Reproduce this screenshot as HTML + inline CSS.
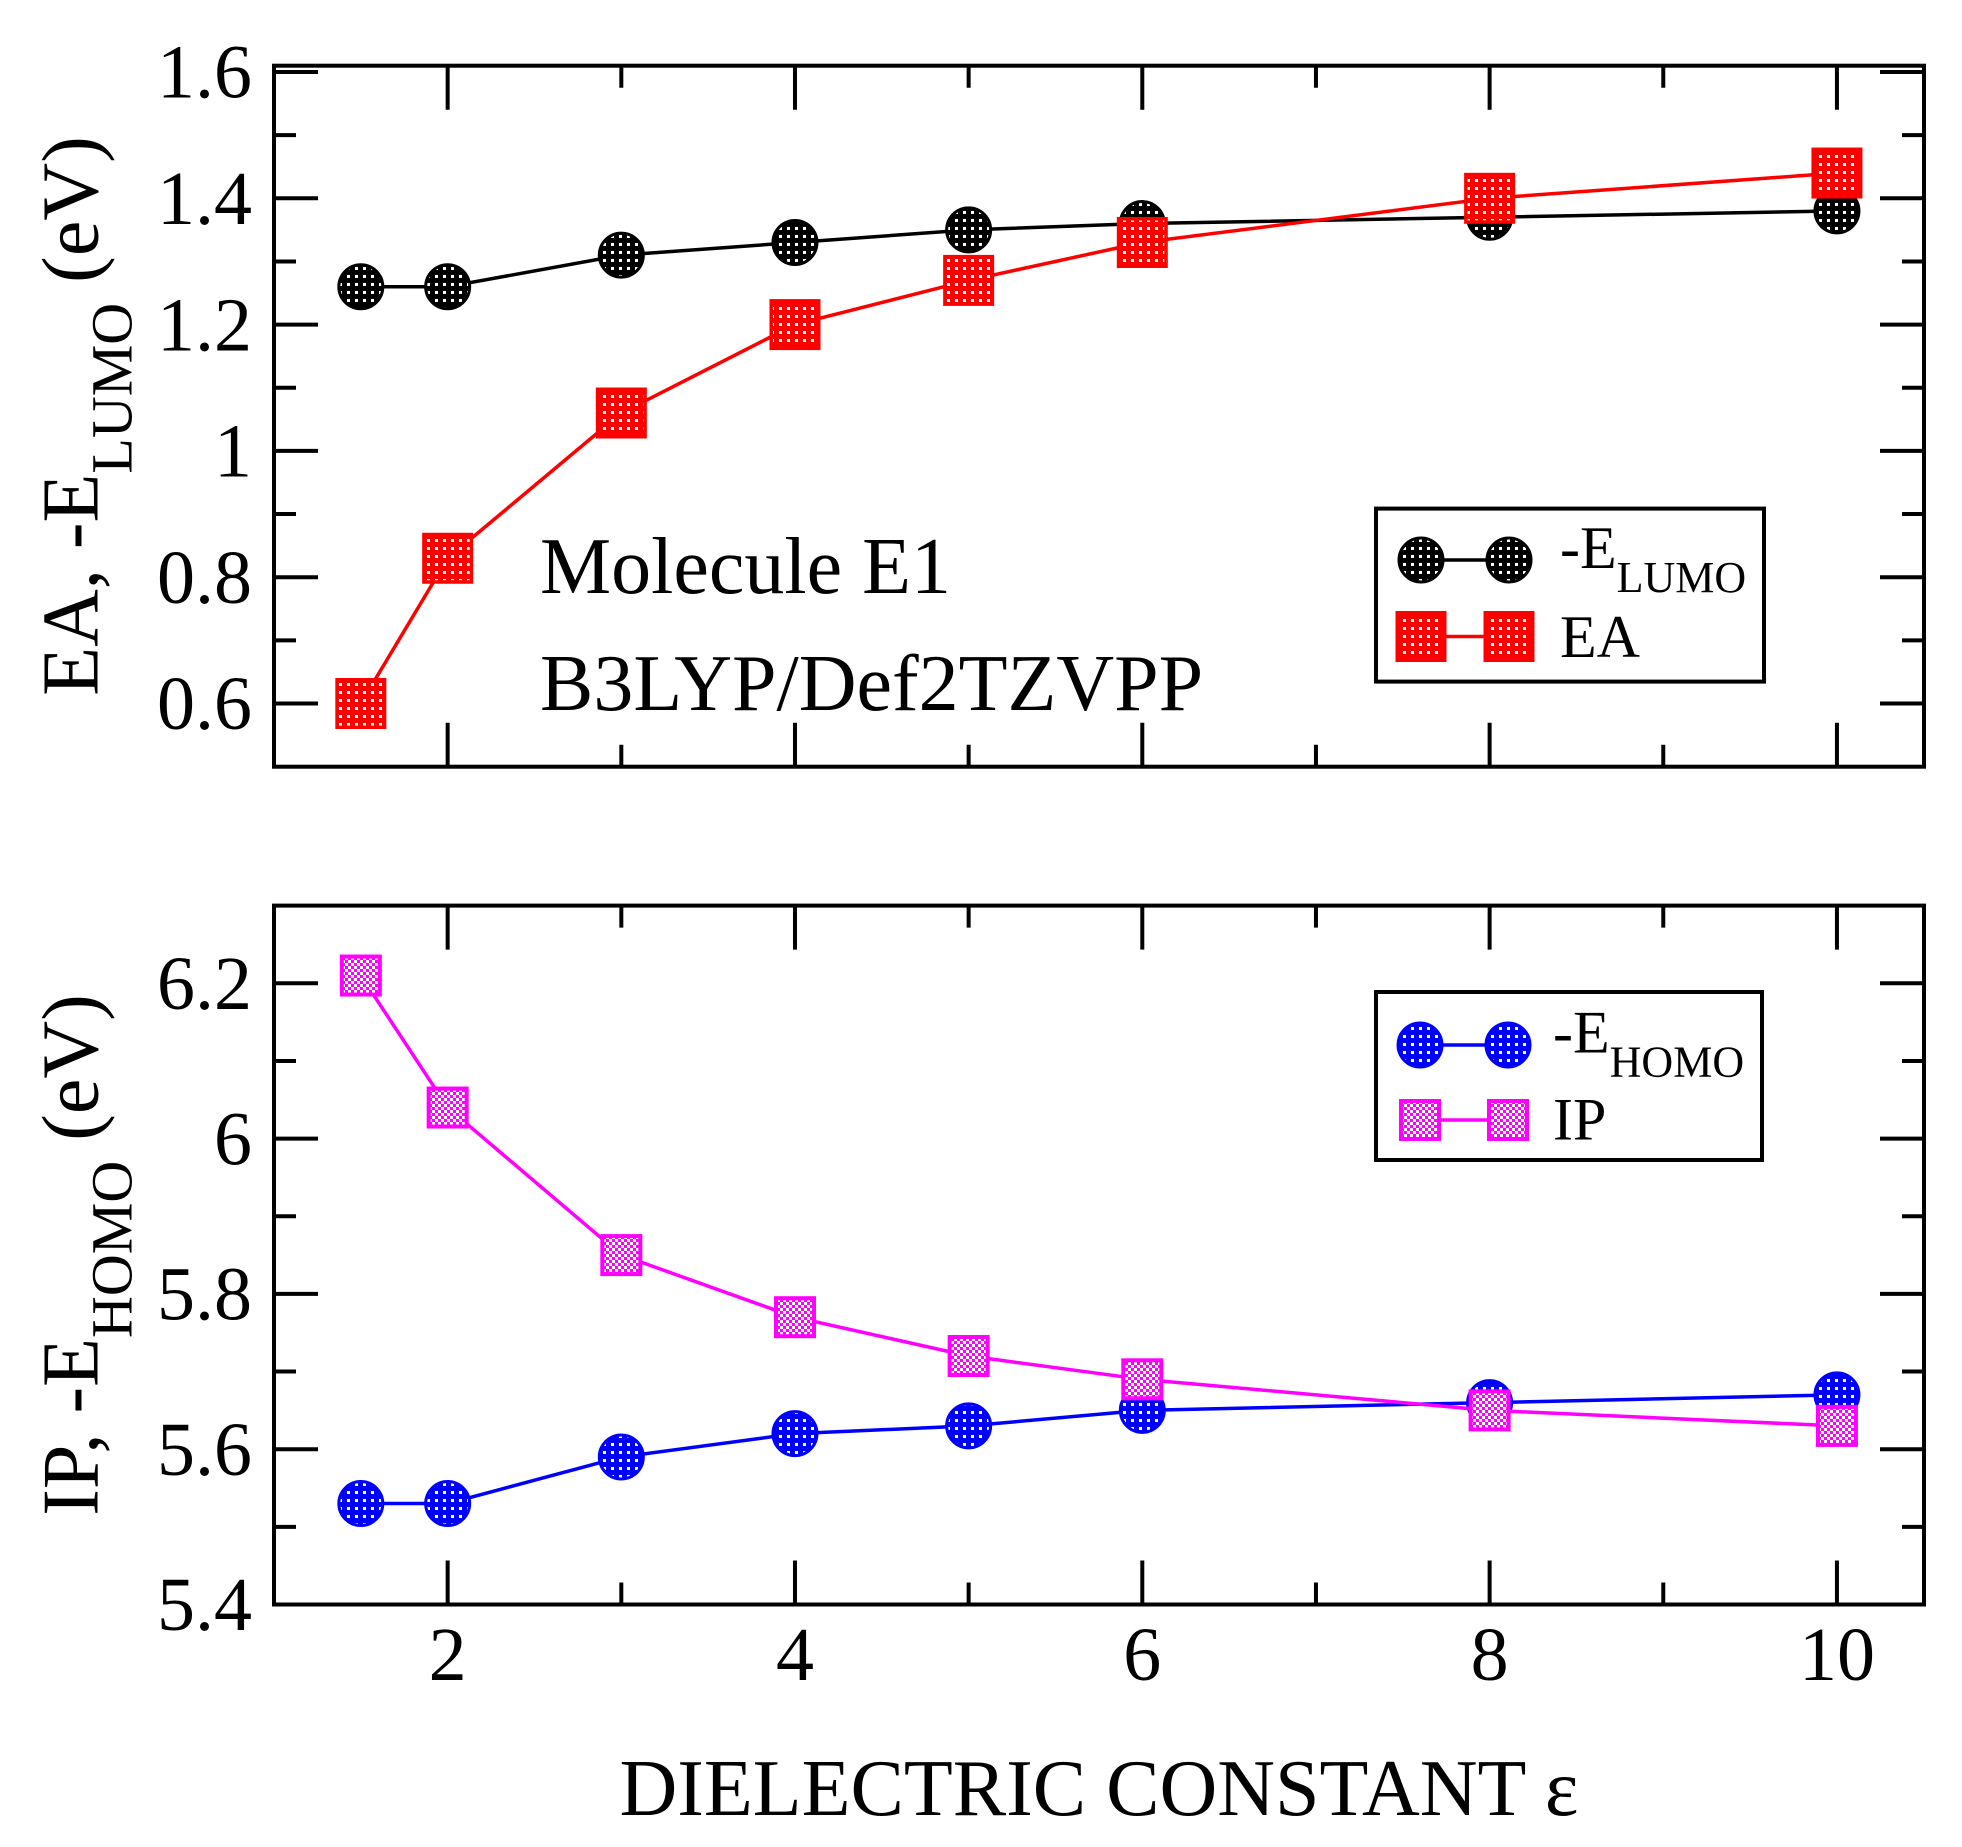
<!DOCTYPE html>
<html>
<head>
<meta charset="utf-8">
<style>
html,body{margin:0;padding:0;background:#fff;}
svg{display:block;}
text{font-family:"Liberation Serif","DejaVu Serif",serif;fill:#000;}
</style>
</head>
<body>
<svg width="1962" height="1847" viewBox="0 0 1962 1847" xmlns="http://www.w3.org/2000/svg">
<defs>
<pattern id="pk" width="8" height="8" patternUnits="userSpaceOnUse"><rect width="8" height="8" fill="#000"/><rect x="3" y="3" width="3" height="3" fill="#fff"/></pattern>
<pattern id="pr" width="8" height="8" patternUnits="userSpaceOnUse"><rect width="8" height="8" fill="#f00"/><rect x="3" y="3" width="3" height="3" fill="#fff"/></pattern>
<pattern id="pb" width="8" height="8" patternUnits="userSpaceOnUse"><rect width="8" height="8" fill="#00f"/><rect x="3" y="3" width="3" height="3" fill="#fff"/></pattern>
<pattern id="pm" width="6" height="6" patternUnits="userSpaceOnUse"><rect width="6" height="6" fill="#f0f"/><rect x="0" y="0" width="3" height="3" fill="#fff"/><rect x="3" y="3" width="3" height="3" fill="#fff"/></pattern>
</defs>
<rect width="1962" height="1847" fill="#fff"/>

<!-- ============ TOP PANEL ============ -->
<rect x="274" y="65.7" width="1650" height="701" fill="none" stroke="#000" stroke-width="4"/>
<g stroke="#000" stroke-width="4" fill="none">
<!-- x ticks top/bottom -->
<path d="M447.66,65.7V109.7 M794.98,65.7V109.7 M1142.3,65.7V109.7 M1489.62,65.7V109.7 M1836.94,65.7V109.7
M621.32,65.7V87.7 M968.64,65.7V87.7 M1315.96,65.7V87.7 M1663.28,65.7V87.7
M447.66,766.7V722.7 M794.98,766.7V722.7 M1142.3,766.7V722.7 M1489.62,766.7V722.7 M1836.94,766.7V722.7
M621.32,766.7V744.7 M968.64,766.7V744.7 M1315.96,766.7V744.7 M1663.28,766.7V744.7"/>
<!-- y ticks left/right -->
<path d="M274,72H318 M274,198.3H318 M274,324.6H318 M274,450.9H318 M274,577.2H318 M274,703.5H318
M274,135.15H296 M274,261.45H296 M274,387.75H296 M274,514.05H296 M274,640.35H296
M1924,72H1880 M1924,198.3H1880 M1924,324.6H1880 M1924,450.9H1880 M1924,577.2H1880 M1924,703.5H1880
M1924,135.15H1902 M1924,261.45H1902 M1924,387.75H1902 M1924,514.05H1902 M1924,640.35H1902"/>
</g>
<g font-size="76" text-anchor="end">
<text x="252" y="97.7">1.6</text>
<text x="252" y="224">1.4</text>
<text x="252" y="350.3">1.2</text>
<text x="252" y="476.6">1</text>
<text x="252" y="602.9">0.8</text>
<text x="252" y="729.2">0.6</text>
</g>
<text transform="translate(97.5,416) rotate(-90)" text-anchor="middle" font-size="80">EA, -E<tspan font-size="58" dy="34">LUMO</tspan><tspan dy="-34"> (eV)</tspan></text>

<!-- -E_LUMO series -->
<polyline points="360.83,286.71 447.66,286.71 621.32,255.14 794.98,242.5 968.64,229.88 1142.3,223.56 1489.62,217.25 1836.94,210.93" fill="none" stroke="#000" stroke-width="3.5" stroke-linejoin="round"/>
<g fill="url(#pk)" stroke="#000" stroke-width="3">
<circle cx="360.83" cy="286.71" r="22"/>
<circle cx="447.66" cy="286.71" r="22"/>
<circle cx="621.32" cy="255.14" r="22"/>
<circle cx="794.98" cy="242.5" r="22"/>
<circle cx="968.64" cy="229.88" r="22"/>
<circle cx="1142.3" cy="223.56" r="22"/>
<circle cx="1489.62" cy="217.25" r="22"/>
<circle cx="1836.94" cy="210.93" r="22"/>
</g>
<!-- EA series -->
<polyline points="360.83,703.5 447.66,558.26 621.32,413.01 794.98,324.6 968.64,280.4 1142.3,242.5 1489.62,198.3 1836.94,173.04" fill="none" stroke="#f00" stroke-width="3.5" stroke-linejoin="round"/>
<g fill="url(#pr)" stroke="#f00" stroke-width="3.5">
<rect x="337.08" y="679.75" width="47.5" height="47.5"/>
<rect x="423.91" y="534.51" width="47.5" height="47.5"/>
<rect x="597.57" y="389.26" width="47.5" height="47.5"/>
<rect x="771.23" y="300.85" width="47.5" height="47.5"/>
<rect x="944.89" y="256.65" width="47.5" height="47.5"/>
<rect x="1118.55" y="218.75" width="47.5" height="47.5"/>
<rect x="1465.87" y="174.55" width="47.5" height="47.5"/>
<rect x="1813.19" y="149.29" width="47.5" height="47.5"/>
</g>

<!-- annotation -->
<text x="540" y="593" font-size="80">Molecule E1</text>
<text x="540" y="710" font-size="80">B3LYP/Def2TZVPP</text>

<!-- legend top -->
<rect x="1376" y="508.6" width="388" height="173" fill="#fff" stroke="#000" stroke-width="4"/>
<line x1="1421" y1="560" x2="1509" y2="560" stroke="#000" stroke-width="3.5"/>
<g fill="url(#pk)" stroke="#000" stroke-width="3">
<circle cx="1421" cy="560" r="22"/>
<circle cx="1509" cy="560" r="22"/>
</g>
<line x1="1421" y1="636.5" x2="1509" y2="636.5" stroke="#f00" stroke-width="3.5"/>
<g fill="url(#pr)" stroke="#f00" stroke-width="3.5">
<rect x="1397.25" y="612.75" width="47.5" height="47.5"/>
<rect x="1485.25" y="612.75" width="47.5" height="47.5"/>
</g>
<text x="1560" y="568" font-size="60">-E<tspan font-size="44" dy="24">LUMO</tspan></text>
<text x="1560" y="657" font-size="60">EA</text>

<!-- ============ BOTTOM PANEL ============ -->
<rect x="274" y="905.6" width="1650" height="698.9" fill="none" stroke="#000" stroke-width="4"/>
<g stroke="#000" stroke-width="4" fill="none">
<path d="M447.66,905.6V949.6 M794.98,905.6V949.6 M1142.3,905.6V949.6 M1489.62,905.6V949.6 M1836.94,905.6V949.6
M621.32,905.6V927.6 M968.64,905.6V927.6 M1315.96,905.6V927.6 M1663.28,905.6V927.6
M447.66,1604.5V1560.5 M794.98,1604.5V1560.5 M1142.3,1604.5V1560.5 M1489.62,1604.5V1560.5 M1836.94,1604.5V1560.5
M621.32,1604.5V1582.5 M968.64,1604.5V1582.5 M1315.96,1604.5V1582.5 M1663.28,1604.5V1582.5"/>
<path d="M274,983.3H318 M274,1138.6H318 M274,1293.9H318 M274,1449.2H318
M274,1060.95H296 M274,1216.25H296 M274,1371.55H296 M274,1526.85H296
M1924,983.3H1880 M1924,1138.6H1880 M1924,1293.9H1880 M1924,1449.2H1880
M1924,1060.95H1902 M1924,1216.25H1902 M1924,1371.55H1902 M1924,1526.85H1902"/>
</g>
<g font-size="76" text-anchor="end">
<text x="252" y="1009">6.2</text>
<text x="252" y="1164.3">6</text>
<text x="252" y="1319.6">5.8</text>
<text x="252" y="1474.9">5.6</text>
<text x="252" y="1630.2">5.4</text>
</g>
<g font-size="76" text-anchor="middle">
<text x="447.66" y="1680">2</text>
<text x="794.98" y="1680">4</text>
<text x="1142.3" y="1680">6</text>
<text x="1489.62" y="1680">8</text>
<text x="1836.94" y="1680">10</text>
</g>
<text transform="translate(97.7,1255) rotate(-90)" text-anchor="middle" font-size="80">IP, -E<tspan font-size="58" dy="34">HOMO</tspan><tspan dy="-34"> (eV)</tspan></text>
<text x="1099" y="1815" text-anchor="middle" font-size="80">DIELECTRIC CONSTANT ε</text>

<!-- -E_HOMO series -->
<polyline points="360.83,1503.56 447.66,1503.56 621.32,1456.97 794.98,1433.67 968.64,1425.9 1142.3,1410.38 1489.62,1402.61 1836.94,1394.85" fill="none" stroke="#00f" stroke-width="3.5" stroke-linejoin="round"/>
<g fill="url(#pb)" stroke="#00f" stroke-width="3">
<circle cx="360.83" cy="1503.56" r="22"/>
<circle cx="447.66" cy="1503.56" r="22"/>
<circle cx="621.32" cy="1456.97" r="22"/>
<circle cx="794.98" cy="1433.67" r="22"/>
<circle cx="968.64" cy="1425.9" r="22"/>
<circle cx="1142.3" cy="1410.38" r="22"/>
<circle cx="1489.62" cy="1402.61" r="22"/>
<circle cx="1836.94" cy="1394.85" r="22"/>
</g>
<!-- IP series -->
<polyline points="360.83,975.53 447.66,1107.54 621.32,1255.08 794.98,1317.2 968.64,1356.02 1142.3,1379.32 1489.62,1410.38 1836.94,1425.9" fill="none" stroke="#f0f" stroke-width="3.5" stroke-linejoin="round"/>
<g fill="url(#pm)" stroke="#f0f" stroke-width="4">
<rect x="341.83" y="956.53" width="38" height="38"/>
<rect x="428.66" y="1088.54" width="38" height="38"/>
<rect x="602.32" y="1236.08" width="38" height="38"/>
<rect x="775.98" y="1298.2" width="38" height="38"/>
<rect x="949.64" y="1337.02" width="38" height="38"/>
<rect x="1123.3" y="1360.32" width="38" height="38"/>
<rect x="1470.62" y="1391.38" width="38" height="38"/>
<rect x="1817.94" y="1406.9" width="38" height="38"/>
</g>

<!-- legend bottom -->
<rect x="1376" y="992" width="386" height="168" fill="#fff" stroke="#000" stroke-width="4"/>
<line x1="1420" y1="1045" x2="1508" y2="1045" stroke="#00f" stroke-width="3.5"/>
<g fill="url(#pb)" stroke="#00f" stroke-width="3">
<circle cx="1420" cy="1045" r="22"/>
<circle cx="1508" cy="1045" r="22"/>
</g>
<line x1="1420" y1="1120" x2="1508" y2="1120" stroke="#f0f" stroke-width="3.5"/>
<g fill="url(#pm)" stroke="#f0f" stroke-width="4">
<rect x="1401" y="1101" width="38" height="38"/>
<rect x="1489" y="1101" width="38" height="38"/>
</g>
<text x="1553" y="1052.7" font-size="60">-E<tspan font-size="44" dy="24">HOMO</tspan></text>
<text x="1553" y="1139.3" font-size="60">IP</text>
</svg>
</body>
</html>
